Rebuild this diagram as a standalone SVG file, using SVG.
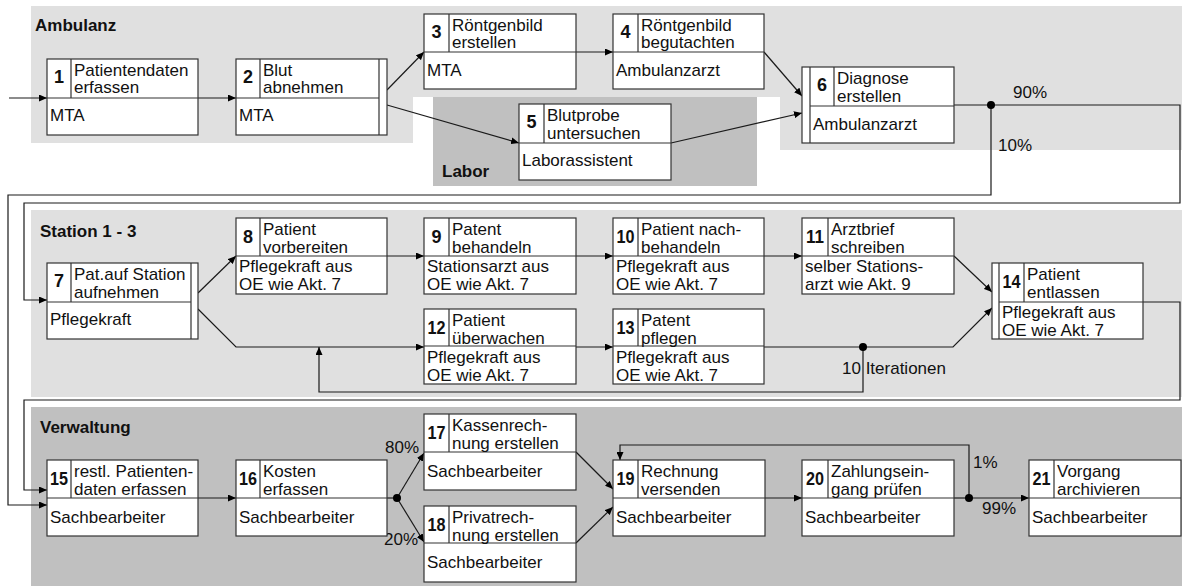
<svg xmlns="http://www.w3.org/2000/svg" width="1182" height="586" viewBox="0 0 1182 586">
<style>
text{font-family:"Liberation Sans",Arial,sans-serif;font-size:17px;fill:#111}
.h{font-weight:bold;font-size:17px}
.num{font-weight:bold;font-size:18px;text-anchor:middle}
.box{fill:#fff;stroke:#333;stroke-width:1.2}
.ln{stroke:#333;stroke-width:1.2;fill:none}
.c{stroke:#1a1a1a;stroke-width:1.2;fill:none}
.a{marker-end:url(#ah)}
.pl{fill:#e0e0e0}
.pd{fill:#c0c0c0}
.dot{fill:#000}
</style>
<defs>
<marker id="ah" markerUnits="userSpaceOnUse" markerWidth="9" markerHeight="7" refX="8" refY="3.5" orient="auto">
<path d="M0,0 L8,3.5 L0,7 z" fill="#000"/>
</marker>
</defs>
<g id="panels">
<polygon class="pl" points="31,6 1182,6 1182,150 780,150 780,97 413,97 413,143 31,143"/>
<rect class="pd" x="433" y="97" width="324" height="89"/>
<rect class="pl" x="31" y="210" width="1151" height="187"/>
<rect class="pd" x="31" y="407" width="1151" height="179"/>
<text class="h" x="35" y="31">Ambulanz</text>
<text class="h" x="442" y="177">Labor</text>
<text class="h" x="40" y="237">Station 1 - 3</text>
<text class="h" x="40" y="433">Verwaltung</text>
</g>
<g id="connectors">
<path class="c a" d="M9,98 H47"/>
<path class="c a" d="M198,98 H236"/>
<path class="c a" d="M387,90 L424,52"/>
<path class="c a" d="M387,105 L519,143"/>
<path class="c a" d="M576,52 H613"/>
<path class="c a" d="M764,52 L802,96"/>
<path class="c a" d="M671,143 L802,113"/>
<path class="c" d="M954,105 H991"/>
<path class="c a" d="M991,105 H1180 V203 H24 V300 H47"/>
<path class="c a" d="M991,105 V195 H8 V505 H47"/>
<path class="c a" d="M198,293 L236,256"/>
<path class="c a" d="M198,309 L236,347 H424"/>
<path class="c a" d="M387,256 H424"/>
<path class="c a" d="M576,256 H613"/>
<path class="c a" d="M764,256 H802"/>
<path class="c a" d="M954,256 L992,292"/>
<path class="c a" d="M576,347 H613"/>
<path class="c" d="M764,347 H863"/>
<path class="c a" d="M863,347 H953 L992,308"/>
<path class="c a" d="M863,347 V392 H319 V347"/>
<path class="c a" d="M1143,302 H1180 V400 H24 V490 H47"/>
<path class="c a" d="M198,498 H236"/>
<path class="c" d="M387,498 H397"/>
<path class="c a" d="M397,498 L424,453"/>
<path class="c a" d="M397,498 L424,542"/>
<path class="c a" d="M576,452 L613,489"/>
<path class="c a" d="M576,543 L613,507"/>
<path class="c a" d="M765,498 H802"/>
<path class="c" d="M954,498 H969"/>
<path class="c a" d="M969,498 H1029"/>
<path class="c a" d="M969,498 V445 H620 V460"/>
<circle class="dot" cx="991" cy="105" r="4"/>
<circle class="dot" cx="863" cy="347" r="4"/>
<circle class="dot" cx="397" cy="498" r="4"/>
<circle class="dot" cx="969" cy="498" r="4"/>
<text x="1013" y="98">90%</text>
<text x="998" y="151">10%</text>
<text x="842" y="374">10 Iterationen</text>
<text x="385" y="453">80%</text>
<text x="384" y="545">20%</text>
<text x="973" y="468">1%</text>
<text x="982" y="514">99%</text>
</g>
<g id="n1"><rect class="box" x="47" y="59" width="151" height="76"/><path class="ln" d="M47,98 H198 M71,59 V98"/><text class="num" x="59" y="83">1</text><text x="74" y="76">Patientendaten</text><text x="74" y="93">erfassen</text><text x="50" y="121">MTA</text></g>
<g id="n2"><rect class="box" x="236" y="59" width="151" height="76"/><path class="ln" d="M236,98 H379 M260,59 V98 M379,59 V135"/><text class="num" x="248" y="83">2</text><text x="263" y="76">Blut</text><text x="263" y="93">abnehmen</text><text x="239" y="121">MTA</text></g>
<g id="n3"><rect class="box" x="424" y="14" width="152" height="75"/><path class="ln" d="M424,52 H576 M449,14 V52"/><text class="num" x="436.5" y="38">3</text><text x="452" y="31">Röntgenbild</text><text x="452" y="48">erstellen</text><text x="427" y="76">MTA</text></g>
<g id="n4"><rect class="box" x="613" y="14" width="151" height="75"/><path class="ln" d="M613,52 H764 M638,14 V52"/><text class="num" x="625.5" y="38">4</text><text x="641" y="31">Röntgenbild</text><text x="641" y="48">begutachten</text><text x="616" y="76">Ambulanzarzt</text></g>
<g id="n5"><rect class="box" x="519" y="104" width="152" height="76"/><path class="ln" d="M519,143 H671 M544,104 V143"/><text class="num" x="531.5" y="128">5</text><text x="547" y="121">Blutprobe</text><text x="547" y="139">untersuchen</text><text x="522" y="166">Laborassistent</text></g>
<g id="n6"><rect class="box" x="802" y="67" width="152" height="76"/><path class="ln" d="M810,106 H954 M810,67 V143 M834,67 V106"/><text class="num" x="822" y="91">6</text><text x="837" y="84">Diagnose</text><text x="837" y="102">erstellen</text><text x="813" y="130">Ambulanzarzt</text></g>
<g id="n7"><rect class="box" x="47" y="263" width="151" height="76"/><path class="ln" d="M47,302 H191 M71,263 V302 M191,263 V339"/><text class="num" x="59" y="287">7</text><text x="74" y="280">Pat.auf Station</text><text x="74" y="298">aufnehmen</text><text x="50" y="325">Pflegekraft</text></g>
<g id="n8"><rect class="box" x="236" y="218" width="151" height="76"/><path class="ln" d="M236,256 H387 M260,218 V256"/><text class="num" x="248" y="243">8</text><text x="263" y="235">Patient</text><text x="263" y="253">vorbereiten</text><text x="239" y="272">Pflegekraft aus</text><text x="239" y="290">OE wie Akt. 7</text></g>
<g id="n9"><rect class="box" x="424" y="218" width="152" height="76"/><path class="ln" d="M424,256 H576 M449,218 V256"/><text class="num" x="436.5" y="243">9</text><text x="452" y="235">Patent</text><text x="452" y="253">behandeln</text><text x="427" y="272">Stationsarzt aus</text><text x="427" y="290">OE wie Akt. 7</text></g>
<g id="n10"><rect class="box" x="613" y="218" width="151" height="76"/><path class="ln" d="M613,256 H764 M638,218 V256"/><text class="num" x="625.5" y="243" textLength="18" lengthAdjust="spacingAndGlyphs">10</text><text x="641" y="235">Patient nach-</text><text x="641" y="253">behandeln</text><text x="616" y="272">Pflegekraft aus</text><text x="616" y="290">OE wie Akt. 7</text></g>
<g id="n11"><rect class="box" x="802" y="218" width="152" height="76"/><path class="ln" d="M802,256 H954 M828,218 V256"/><text class="num" x="815" y="243" textLength="18" lengthAdjust="spacingAndGlyphs">11</text><text x="831" y="235">Arztbrief</text><text x="831" y="253">schreiben</text><text x="805" y="272">selber Stations-</text><text x="805" y="290">arzt wie Akt. 9</text></g>
<g id="n12"><rect class="box" x="424" y="309" width="152" height="75"/><path class="ln" d="M424,346 H576 M449,309 V346"/><text class="num" x="436.5" y="334" textLength="18" lengthAdjust="spacingAndGlyphs">12</text><text x="452" y="326">Patient</text><text x="452" y="344">überwachen</text><text x="427" y="363">Pflegekraft aus</text><text x="427" y="381">OE wie Akt. 7</text></g>
<g id="n13"><rect class="box" x="613" y="309" width="151" height="75"/><path class="ln" d="M613,346 H764 M638,309 V346"/><text class="num" x="625.5" y="334" textLength="18" lengthAdjust="spacingAndGlyphs">13</text><text x="641" y="326">Patent</text><text x="641" y="344">pflegen</text><text x="616" y="363">Pflegekraft aus</text><text x="616" y="381">OE wie Akt. 7</text></g>
<g id="n14"><rect class="box" x="992" y="263" width="151" height="76"/><path class="ln" d="M999,302 H1143 M999,263 V339 M1024,263 V302"/><text class="num" x="1011.5" y="288" textLength="18" lengthAdjust="spacingAndGlyphs">14</text><text x="1027" y="280">Patient</text><text x="1027" y="298">entlassen</text><text x="1002" y="318">Pflegekraft aus</text><text x="1002" y="336">OE wie Akt. 7</text></g>
<g id="n15"><rect class="box" x="47" y="460" width="151" height="76"/><path class="ln" d="M47,498 H198 M71,460 V498"/><text class="num" x="59" y="485" textLength="18" lengthAdjust="spacingAndGlyphs">15</text><text x="74" y="477">restl. Patienten-</text><text x="74" y="495">daten erfassen</text><text x="50" y="523">Sachbearbeiter</text></g>
<g id="n16"><rect class="box" x="236" y="460" width="151" height="76"/><path class="ln" d="M236,498 H387 M260,460 V498"/><text class="num" x="248" y="485" textLength="18" lengthAdjust="spacingAndGlyphs">16</text><text x="263" y="477">Kosten</text><text x="263" y="495">erfassen</text><text x="239" y="523">Sachbearbeiter</text></g>
<g id="n17"><rect class="box" x="424" y="414" width="152" height="76"/><path class="ln" d="M424,452 H576 M449,414 V452"/><text class="num" x="436.5" y="439" textLength="18" lengthAdjust="spacingAndGlyphs">17</text><text x="452" y="431">Kassenrech-</text><text x="452" y="449">nung erstellen</text><text x="427" y="477">Sachbearbeiter</text></g>
<g id="n18"><rect class="box" x="424" y="506" width="152" height="76"/><path class="ln" d="M424,543 H576 M449,506 V543"/><text class="num" x="436.5" y="531" textLength="18" lengthAdjust="spacingAndGlyphs">18</text><text x="452" y="523">Privatrech-</text><text x="452" y="541">nung erstellen</text><text x="427" y="568">Sachbearbeiter</text></g>
<g id="n19"><rect class="box" x="613" y="460" width="152" height="76"/><path class="ln" d="M613,498 H765 M638,460 V498"/><text class="num" x="625.5" y="485" textLength="18" lengthAdjust="spacingAndGlyphs">19</text><text x="641" y="477">Rechnung</text><text x="641" y="495">versenden</text><text x="616" y="523">Sachbearbeiter</text></g>
<g id="n20"><rect class="box" x="802" y="460" width="152" height="76"/><path class="ln" d="M802,498 H954 M828,460 V498"/><text class="num" x="815" y="485" textLength="18" lengthAdjust="spacingAndGlyphs">20</text><text x="831" y="477">Zahlungsein-</text><text x="831" y="495">gang prüfen</text><text x="805" y="523">Sachbearbeiter</text></g>
<g id="n21"><rect class="box" x="1029" y="460" width="152" height="76"/><path class="ln" d="M1029,498 H1181 M1054,460 V498"/><text class="num" x="1041.5" y="485" textLength="18" lengthAdjust="spacingAndGlyphs">21</text><text x="1057" y="477">Vorgang</text><text x="1057" y="495">archivieren</text><text x="1032" y="523">Sachbearbeiter</text></g>
</svg>
